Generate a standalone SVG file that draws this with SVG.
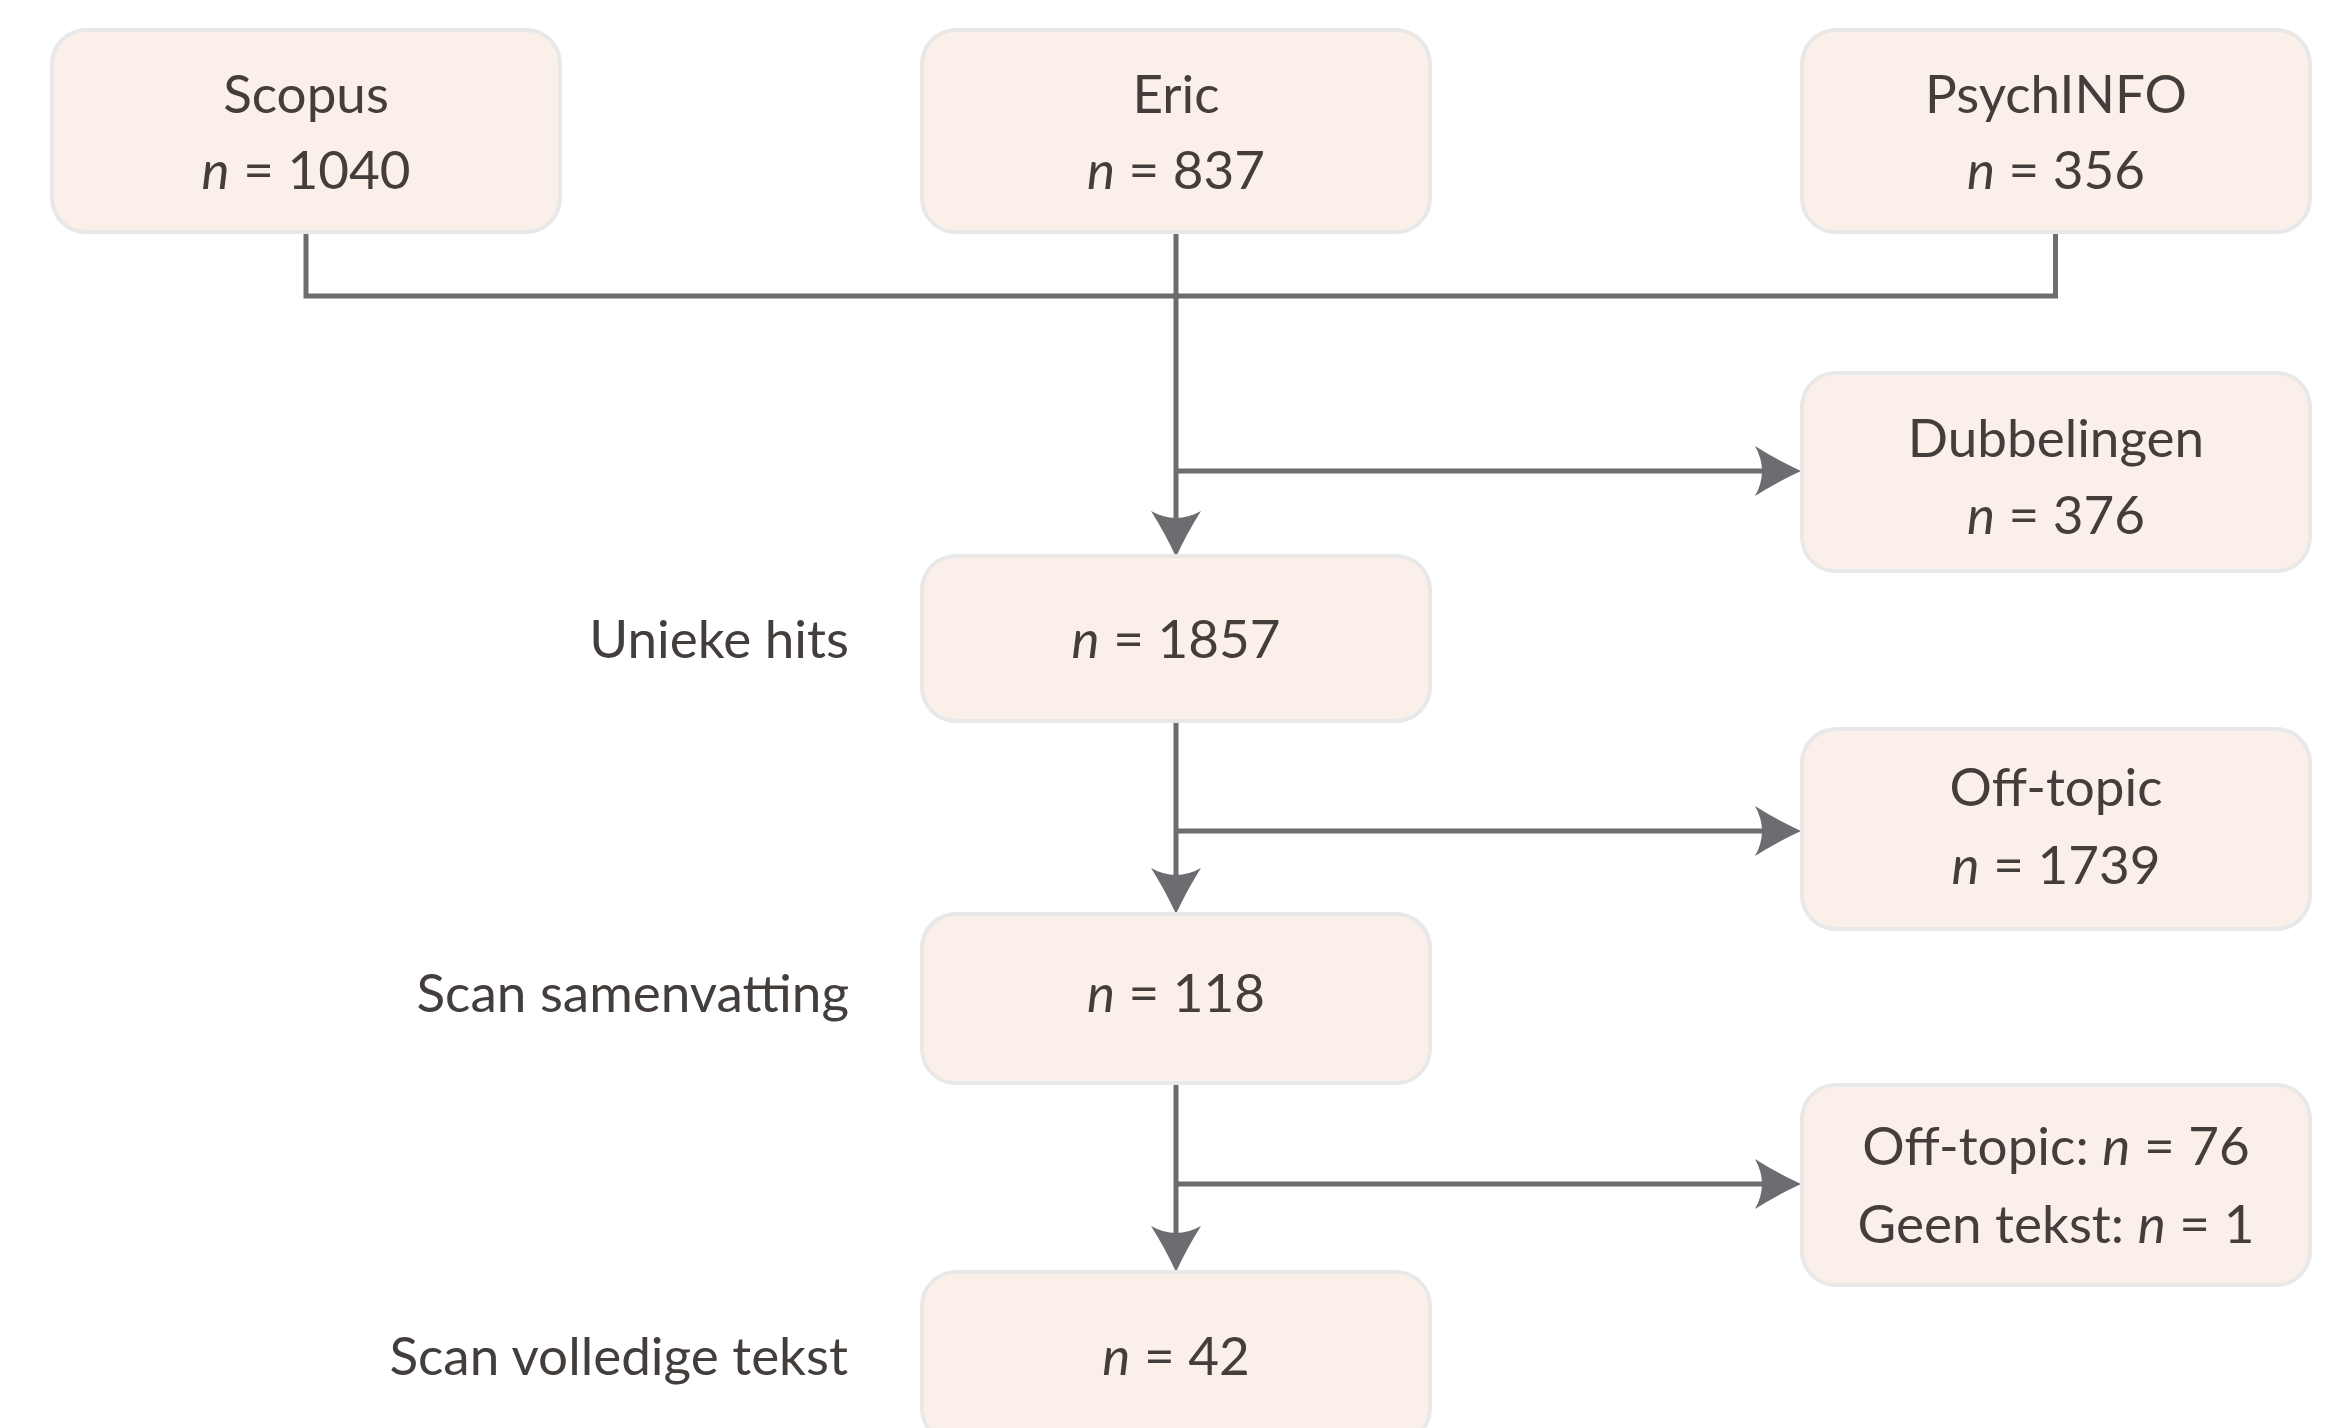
<svg xmlns="http://www.w3.org/2000/svg" width="2343" height="1428" viewBox="0 0 2343 1428">
<style>
.box{fill:#fbefea;stroke:#e8e8e8;stroke-width:4}
.t{font-family:Lato,"Open Sans","Liberation Sans",sans-serif;font-size:53px;fill:#433e3b}
.c{text-anchor:middle}
.r{text-anchor:end}
.i{font-style:italic}
.ln{fill:none;stroke:#6c6d70;stroke-width:5}
</style>
<defs>
<marker id="ah" viewBox="0 0 46 50" refX="32" refY="25" markerWidth="46" markerHeight="50" markerUnits="userSpaceOnUse" orient="auto">
<path d="M46,25 Q22,14 0,0 Q14,25 0,50 Q22,36 46,25 Z" fill="#6c6d70"/>
</marker>
</defs>
<rect width="2343" height="1428" fill="#ffffff"/>
<g id="connectors">
<path class="ln" d="M306,233 V296 H2055.5 V232"/>
<path class="ln" d="M1176,232 V543" marker-end="url(#ah)"/>
<path class="ln" d="M1176,471 H1787" marker-end="url(#ah)"/>
<path class="ln" d="M1176,721 V900" marker-end="url(#ah)"/>
<path class="ln" d="M1176,831 H1787" marker-end="url(#ah)"/>
<path class="ln" d="M1176,1083 V1258" marker-end="url(#ah)"/>
<path class="ln" d="M1176,1184 H1787" marker-end="url(#ah)"/>
</g>
<g id="scopus">
<rect class="box" x="52" y="30" width="508" height="202" rx="34"/>
<text class="t c" x="306" y="113">Scopus</text>
<text class="t c" x="306" y="189"><tspan class="i">n</tspan> = 1040</text>
</g>
<g id="eric">
<rect class="box" x="922" y="30" width="508" height="202" rx="34"/>
<text class="t c" x="1176" y="113">Eric</text>
<text class="t c" x="1176" y="189"><tspan class="i">n</tspan> = 837</text>
</g>
<g id="psychinfo">
<rect class="box" x="1802" y="30" width="508" height="202" rx="34"/>
<text class="t c" x="2056" y="113">PsychINFO</text>
<text class="t c" x="2056" y="189"><tspan class="i">n</tspan> = 356</text>
</g>
<g id="dubbelingen">
<rect class="box" x="1802" y="373" width="508" height="198" rx="34"/>
<text class="t c" x="2056" y="457">Dubbelingen</text>
<text class="t c" x="2056" y="534"><tspan class="i">n</tspan> = 376</text>
</g>
<g id="unieke">
<rect class="box" x="922" y="556" width="508" height="165" rx="34"/>
<text class="t c" x="1176" y="658"><tspan class="i">n</tspan> = 1857</text>
<text class="t r" x="849" y="658">Unieke hits</text>
</g>
<g id="offtopic1">
<rect class="box" x="1802" y="729" width="508" height="200" rx="34"/>
<text class="t c" x="2056" y="806">Off-topic</text>
<text class="t c" x="2056" y="884"><tspan class="i">n</tspan> = 1739</text>
</g>
<g id="samenvatting">
<rect class="box" x="922" y="914" width="508" height="169" rx="34"/>
<text class="t c" x="1176" y="1012"><tspan class="i">n</tspan> = 118</text>
<text class="t r" x="849" y="1012">Scan samenvatting</text>
</g>
<g id="offtopic2">
<rect class="box" x="1802" y="1085" width="508" height="200" rx="34"/>
<text class="t c" x="2056" y="1165">Off-topic: <tspan class="i">n</tspan> = 76</text>
<text class="t c" x="2056" y="1243">Geen tekst: <tspan class="i">n</tspan> = 1</text>
</g>
<g id="volledig">
<rect class="box" x="922" y="1272" width="508" height="170" rx="34"/>
<text class="t c" x="1176" y="1375"><tspan class="i">n</tspan> = 42</text>
<text class="t r" x="848" y="1375">Scan volledige tekst</text>
</g>
</svg>
